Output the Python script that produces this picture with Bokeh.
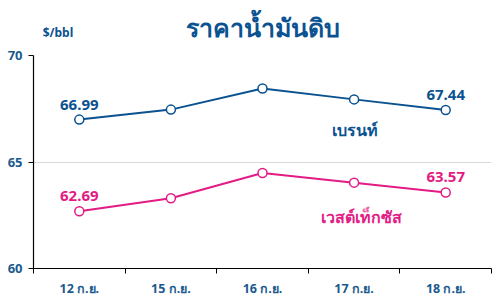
from bokeh.plotting import figure
from bokeh.layouts import column
from bokeh.models import FixedTicker, Range1d, Label, ColumnDataSource
from bokeh.embed import file_html
from bokeh.resources import INLINE

dates = ["12 ก.ย.", "15 ก.ย.", "16 ก.ย.", "17 ก.ย.", "18 ก.ย."]
brent = [66.99, 67.46, 68.45, 67.94, 67.44]
wti = [62.69, 63.30, 64.48, 64.03, 63.57]
y_ticks = [60, 65, 70]
title_text = "ราคาน้ำมันดิบ"
unit_text = "$/bbl"
brent_name = "เบรนท์"
wti_name = "เวสต์เท็กซัส"

BLUE = "#0b5291"
PINK = "#e31b84"
LABEL_BLUE = "#1b5a8e"
FONT = "Noto Sans"

HEADER_H = 47

# ---- header strip (title + unit) ----
head = figure(width=500, height=HEADER_H, output_backend="svg", toolbar_location=None,
              x_range=Range1d(0, 500), y_range=Range1d(HEADER_H, 0),
              x_axis_type=None, y_axis_type=None,
              min_border=0, min_border_left=0, min_border_right=0,
              min_border_top=0, min_border_bottom=0)
head.outline_line_color = None
head.xgrid.grid_line_color = None
head.ygrid.grid_line_color = None
head.add_layout(Label(x=250, y=26, text=title_text,
                      text_align="center", text_baseline="middle",
                      text_font=FONT, text_font_style="bold", text_font_size="25px",
                      text_color=BLUE))
head.add_layout(Label(x=10, y=32, text=unit_text,
                      text_align="left", text_baseline="middle",
                      text_font=FONT, text_font_style="bold", text_font_size="12px",
                      text_color=BLUE))

# ---- main chart ----
xs = [i + 0.5 for i in range(len(dates))]

p = figure(width=500, height=300 - HEADER_H, output_backend="svg", toolbar_location=None,
           x_range=Range1d(0, len(dates)), y_range=Range1d(60, 70),
           min_border_left=33, min_border_right=9, min_border_top=55 - HEADER_H,
           min_border_bottom=32)
p.outline_line_color = None
p.background_fill_color = "white"
p.border_fill_color = "white"

p.xaxis.ticker = FixedTicker(ticks=xs, minor_ticks=list(range(len(dates) + 1)))
p.xaxis.major_label_overrides = {x: d for x, d in zip(xs, dates)}
p.xaxis.major_tick_out = 0
p.xaxis.major_tick_in = 0
p.xaxis.minor_tick_out = 5
p.xaxis.minor_tick_in = 0
p.xaxis.major_label_standoff = 6
p.xaxis.major_label_text_font = FONT
p.xaxis.major_label_text_font_style = "bold"
p.xaxis.major_label_text_font_size = "12.5px"
p.xaxis.major_label_text_color = LABEL_BLUE
p.xaxis.axis_line_color = "black"
p.xaxis.axis_line_width = 1.2

p.yaxis.ticker = FixedTicker(ticks=y_ticks, minor_ticks=[])
p.yaxis.major_tick_out = 5
p.yaxis.major_tick_in = 0
p.yaxis.major_label_standoff = 6
p.yaxis.major_label_text_font = FONT
p.yaxis.major_label_text_font_style = "bold"
p.yaxis.major_label_text_font_size = "13px"
p.yaxis.major_label_text_color = LABEL_BLUE
p.yaxis.axis_line_color = "black"
p.yaxis.axis_line_width = 1.2

p.xgrid.grid_line_color = None
p.ygrid.grid_line_color = "#d9d9d9"
p.ygrid.grid_line_width = 1

src = ColumnDataSource(dict(x=xs, brent=brent, wti=wti))

p.line("x", "brent", source=src, line_color=BLUE, line_width=2)
p.scatter("x", "brent", source=src, size=9, fill_color="white", line_color=BLUE, line_width=1.5)
p.line("x", "wti", source=src, line_color=PINK, line_width=2)
p.scatter("x", "wti", source=src, size=9, fill_color="white", line_color=PINK, line_width=1.5)

for idx in (0, len(dates) - 1):
    p.add_layout(Label(x=xs[idx], y=brent[idx], text=f"{brent[idx]:.2f}", y_offset=10,
                       text_align="center", text_baseline="bottom",
                       text_font=FONT, text_font_style="bold", text_font_size="15px",
                       text_color=BLUE))
    p.add_layout(Label(x=xs[idx], y=wti[idx], text=f"{wti[idx]:.2f}", y_offset=10,
                       text_align="center", text_baseline="bottom",
                       text_font=FONT, text_font_style="bold", text_font_size="15px",
                       text_color=PINK))

p.add_layout(Label(x=xs[3], y=brent[3], text=brent_name, y_offset=-31, x_offset=1,
                   text_align="center", text_baseline="middle",
                   text_font=FONT, text_font_style="bold", text_font_size="16px",
                   text_color=BLUE))
p.add_layout(Label(x=xs[3], y=wti[3], text=wti_name, y_offset=-34, x_offset=7,
                   text_align="center", text_baseline="middle",
                   text_font=FONT, text_font_style="bold", text_font_size="16px",
                   text_color=PINK))

layout = column(head, p, spacing=0)
open("out.html", "w").write(file_html(layout, INLINE))
